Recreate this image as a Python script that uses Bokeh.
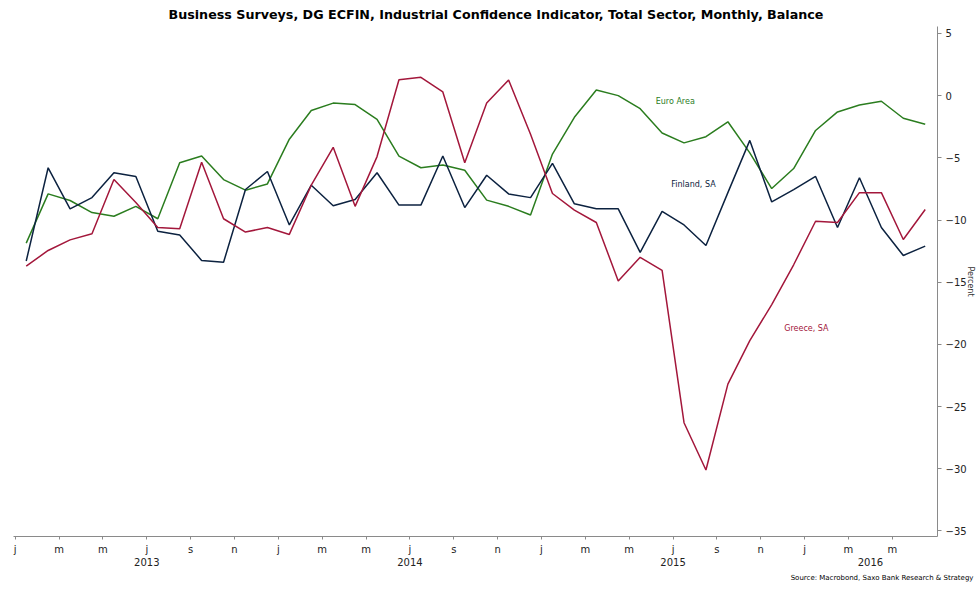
from bokeh.plotting import figure
from bokeh.models import Range1d, LinearAxis, FixedTicker, Label, Title, ColumnDataSource
from bokeh.embed import file_html
from bokeh.resources import INLINE

# ---- data (monthly, Jan 2013 .. Jun 2016) ----
months = [f"{y}-{m:02d}" for y in (2013, 2014, 2015, 2016) for m in range(1, 13)][:42]

euro_area = [-11.86, -7.9, -8.43, -9.4, -9.7, -8.9, -9.9, -5.4, -4.85, -6.75, -7.6, -7.1,
             -3.5, -1.2, -0.6, -0.72, -1.9, -4.87, -5.8, -5.57, -6.0, -8.4, -8.9, -9.6,
             -4.7, -1.74, 0.45, 0.0, -1.05, -3.0, -3.8, -3.3, -2.1, -4.6, -7.47, -5.86,
             -2.8, -1.31, -0.75, -0.45, -1.82, -2.3]
finland = [-13.3, -5.8, -9.1, -8.2, -6.2, -6.5, -10.9, -11.2, -13.25, -13.4, -7.55, -6.1,
           -10.4, -7.2, -8.85, -8.35, -6.2, -8.8, -8.8, -4.85, -9.0, -6.4, -7.9, -8.2,
           -5.45, -8.7, -9.1, -9.1, -12.6, -9.3, -10.4, -12.05, -7.8, -3.6, -8.55, -7.55,
           -6.5, -10.6, -6.6, -10.6, -12.85, -12.1]
greece = [-13.7, -12.45, -11.6, -11.1, -6.75, -8.6, -10.6, -10.7, -5.35, -9.9, -10.97, -10.6,
          -11.16, -7.2, -4.15, -8.9, -4.9, 1.28, 1.47, 0.3, -5.4, -0.6, 1.25, -3.1,
          -7.87, -9.2, -10.2, -14.9, -13.0, -14.05, -26.3, -30.1, -23.2, -19.7, -16.8, -13.6,
          -10.1, -10.2, -7.8, -7.8, -11.57, -9.16]

month_letters = ["j", "m", "m", "j", "s", "n"] * 3 + ["j", "m", "m"]
year_labels = ["2013", "2014", "2015", "2016"]
y_ticks = [-35, -30, -25, -20, -15, -10, -5, 0, 5]

# ---- styling ----
C_EURO = "#2b7d1f"
C_FIN = "#0c2240"
C_GRE = "#a3173b"
AXIS_C = "#8a8a8a"
FONT = "DejaVu Sans"

# x position: month index, plotted mid-month
x = [i + 0.5 for i in range(len(months))]
src = ColumnDataSource(dict(x=x, month=months, euro=euro_area, fin=finland, gre=greece))

p = figure(frame_width=924, frame_height=510,
           x_range=Range1d(-0.08, 42.06), y_range=Range1d(-35.45, 5.56),
           y_axis_location="right", toolbar_location=None, output_backend="svg",
           min_border_left=13, min_border_right=0, min_border_top=4, min_border_bottom=0)
p.background_fill_color = "white"
p.border_fill_color = "white"
p.outline_line_color = None
p.grid.visible = False

p.title.text = "Business Surveys, DG ECFIN, Industrial Confidence Indicator, Total Sector, Monthly, Balance"
p.title.text_font = FONT
p.title.text_font_size = "12.7px"
p.title.text_font_style = "bold"
p.title.text_color = "#000000"
p.title.align = "left"
p.title.offset = 155
p.title.standoff = 9

p.line("x", "euro", source=src, color=C_EURO, line_width=1.5)
p.line("x", "fin", source=src, color=C_FIN, line_width=1.5)
p.line("x", "gre", source=src, color=C_GRE, line_width=1.5)

# bottom month axis
xa = p.xaxis[0]
month_ticks = list(range(0, 41, 2))
xa.ticker = FixedTicker(ticks=month_ticks)
xa.major_label_overrides = {t: lab for t, lab in zip(month_ticks, month_letters)}
xa.axis_line_color = AXIS_C
xa.major_tick_line_color = AXIS_C
xa.major_tick_out = 3
xa.major_tick_in = 0
xa.minor_tick_line_color = None
xa.major_label_standoff = 4
xa.major_label_text_font = FONT
xa.major_label_text_font_size = "10px"
xa.major_label_text_color = "#222222"

# year axis
year_ticks = [6, 18, 30, 39]
ya2 = LinearAxis(ticker=FixedTicker(ticks=year_ticks),
                 major_label_overrides={t: lab for t, lab in zip(year_ticks, year_labels)},
                 axis_line_color=None, major_tick_line_color=None, minor_tick_line_color=None,
                 major_tick_out=0, major_tick_in=0, major_label_standoff=0,
                 major_label_text_font=FONT, major_label_text_font_size="10px",
                 major_label_text_color="#222222")
p.add_layout(ya2, "below")

# right y axis
ya = p.yaxis[0]
ya.ticker = FixedTicker(ticks=y_ticks)
ya.axis_line_color = AXIS_C
ya.major_tick_line_color = AXIS_C
ya.major_tick_out = 4
ya.major_tick_in = 0
ya.minor_tick_line_color = None
ya.major_label_standoff = 4
ya.major_label_text_font = FONT
ya.major_label_text_font_size = "10px"
ya.major_label_text_color = "#222222"
ya.axis_label = "Percent"
ya.axis_label_text_font = FONT
ya.axis_label_text_font_size = "8px"
ya.axis_label_text_font_style = "normal"
ya.axis_label_text_color = "#333333"
ya.axis_label_standoff = -4

# series labels
for lx, ly, txt, col in [(30.1, -0.46, "Euro Area", C_EURO),
                         (30.93, -7.12, "Finland, SA", C_FIN),
                         (36.08, -18.76, "Greece, SA", C_GRE)]:
    p.add_layout(Label(x=lx, y=ly, text=txt, text_color=col, text_font=FONT,
                       text_font_size="8px", text_align="center", text_baseline="middle"))

src_title = Title(text="Source: Macrobond, Saxo Bank Research & Strategy", align="right",
                  text_font=FONT, text_font_size="7px", text_font_style="normal",
                  text_color="#000000", offset=-36, standoff=6)
p.add_layout(src_title, "below")

open("out.html", "w").write(file_html(p, INLINE))
